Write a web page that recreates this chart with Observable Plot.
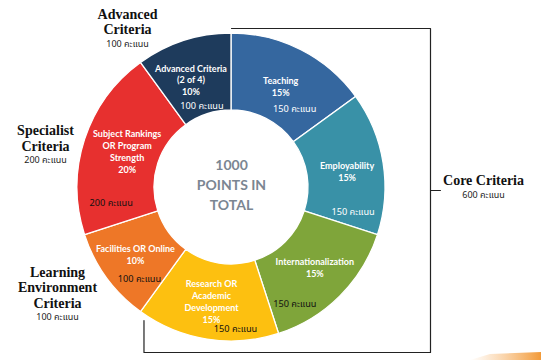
<!DOCTYPE html>
<html>
<head>
<meta charset="utf-8">
<script src="https://cdn.jsdelivr.net/npm/d3@7"></script>
<script src="https://cdn.jsdelivr.net/npm/@observablehq/plot@0.6"></script>
<style>
  html, body { margin: 0; padding: 0; background: #fff; }
  #chart svg { display: block; }
</style>
</head>
<body>
<div id="chart"></div>
<script>
// ---- data ----
const segments = ["Teaching", "Employability", "Internationalization", "Research OR\nAcademic\nDevelopment", "Facilities OR Online", "Subject Rankings\nOR Program\nStrength", "Advanced Criteria\n(2 of 4)"];
const percents = [15, 15, 15, 15, 10, 20, 10];
const points = [150, 150, 150, 150, 100, 200, 100];
const unit = "คะแนน";
const totalLabel = ["1000", "POINTS IN", "TOTAL"];
const groups = ["Advanced\nCriteria", "Specialist\nCriteria", "Learning\nEnvironment\nCriteria", "Core Criteria"];
const groupPoints = [100, 200, 100, 600];
const coreCount = 4; // first four segments form the core criteria

// ---- styles / layout ----
const colors = ["#35679f", "#3991a7", "#7fa53a", "#fdc010", "#ee7727", "#e7302f", "#1e3b5c"];
const pointColors = ["#fff", "#fff", "#111", "#111", "#111", "#111", "#fff"];
const W = 541, H = 360;
const cx = 231, cy = 187, rOuter = 154, rInner = 77, rLabel = 115;
const titleOffset = [[-3, 1], [2, 2], [2, -2], [-2, 0], [-3, -1], [5, -1], [-5, 1.5]];
const pointsOffset = [[11, 24], [8, 43], [-18, 35], [22, 28], [1, 24], [-11, 51], [6, 28]];
const groupPos = [[127, 21], [45, 137.5], [57, 287], [483, 180]];
const bracket = {right: 430, top: 28, bottom: 352, leftBottomTop: 320, tick: 440, tickY: 190};

const total = d3.sum(percents);
const sliceData = [];
let acc = 0;
segments.forEach((s, i) => {
  const a0 = acc / total * 2 * Math.PI;
  acc += percents[i];
  const a1 = acc / total * 2 * Math.PI;
  const mid = (a0 + a1) / 2;
  const px = cx + rLabel * Math.sin(mid), py = cy - rLabel * Math.cos(mid);
  sliceData.push({
    name: s, pct: percents[i], pts: points[i], a0, a1, color: colors[i],
    title: s + "\n" + percents[i] + "%",
    tx: px + titleOffset[i][0], ty: py + titleOffset[i][1],
    px: px + pointsOffset[i][0], py: py + pointsOffset[i][1],
    pcolor: pointColors[i],
    ptsLabel: points[i] + " " + unit
  });
});

const coreEnd = sliceData[coreCount - 1].a1;
const bracketTopX = cx + rOuter * Math.sin(0);
const bracketBottomX = cx + rOuter * Math.sin(coreEnd) + 3;
const bracketPts = [
  {x: bracketTopX, y: bracket.top},
  {x: bracket.right, y: bracket.top},
  {x: bracket.right, y: bracket.bottom},
  {x: bracketBottomX, y: bracket.bottom},
  {x: bracketBottomX, y: bracket.leftBottomTop}
];
const tickPts = [{x: bracket.right, y: bracket.tickY}, {x: bracket.tick, y: bracket.tickY}];

const groupData = groups.map((g, i) => ({
  name: g, x: groupPos[i][0], y: groupPos[i][1],
  sub: groupPoints[i] + " " + unit,
  lines: g.split("\n").length
}));

function donut(index, {x, y}) {
  const g = d3.create("svg:g").attr("transform", `translate(${x(cx)},${y(cy)})`);
  const arc = d3.arc().innerRadius(x(rInner) - x(0)).outerRadius(x(rOuter) - x(0));
  g.selectAll("path").data(sliceData).join("path")
    .attr("d", d => arc({startAngle: d.a0, endAngle: d.a1}))
    .attr("fill", d => d.color)
    .attr("stroke", "#fff")
    .attr("stroke-width", 1.3);
  return g.node();
}

function deco(index, {x, y}) {
  const g = d3.create("svg:g");
  const defs = g.append("defs");
  const lg = defs.append("linearGradient").attr("id", "og").attr("x1", "0").attr("x2", "1");
  lg.append("stop").attr("offset", "0").attr("stop-color", "#f7b267").attr("stop-opacity", 0);
  lg.append("stop").attr("offset", "1").attr("stop-color", "#f29a38");
  g.append("path").attr("d", `M${x(470)},${y(360)} L${x(490)},${y(354)} L${x(541)},${y(352)} L${x(541)},${y(360)} Z`).attr("fill", "url(#og)");
  return g.node();
}

const sans = "Lato, 'Open Sans', sans-serif";
const thai = "Tahoma, 'Noto Sans Thai', 'DejaVu Sans', sans-serif";
const serif = "'Liberation Serif', 'DejaVu Serif', serif";

const chart = Plot.plot({
  width: W, height: H, margin: 0,
  x: {domain: [0, W], range: [0, W], axis: null},
  y: {domain: [0, H], range: [0, H], axis: null},
  style: {background: "#fff"},
  marks: [
    Plot.line(bracketPts, {x: "x", y: "y", stroke: "#222", strokeWidth: 1.2}),
    Plot.line(tickPts, {x: "x", y: "y", stroke: "#222", strokeWidth: 1}),
    donut,
    deco,
    Plot.text(sliceData, {x: "tx", y: "ty", text: "title", fill: "#fff", fontSize: 9, fontWeight: "bold", fontFamily: sans, lineHeight: 1.33}),
    Plot.text(sliceData, {x: "px", y: "py", text: "ptsLabel", fill: "pcolor", fontSize: 9.2, fontFamily: thai}),
    Plot.text([totalLabel.join("\n")], {x: cx, y: cy - 4, text: d => d, fill: "#7b8692", fontSize: 14, fontWeight: "bold", fontFamily: sans, lineHeight: 1.43}),
    Plot.text(groupData, {x: "x", y: "y", text: "name", fontSize: 14, fontWeight: "bold", fontFamily: serif, fill: "#111", lineHeight: 1.1}),
    Plot.text(groupData, {x: "x", y: d => d.y + d.lines * 15.4 / 2 + 7, text: "sub", fontSize: 9, fontFamily: thai, fill: "#222"})
  ]
});
document.getElementById("chart").appendChild(chart);
</script>
</body>
</html>
